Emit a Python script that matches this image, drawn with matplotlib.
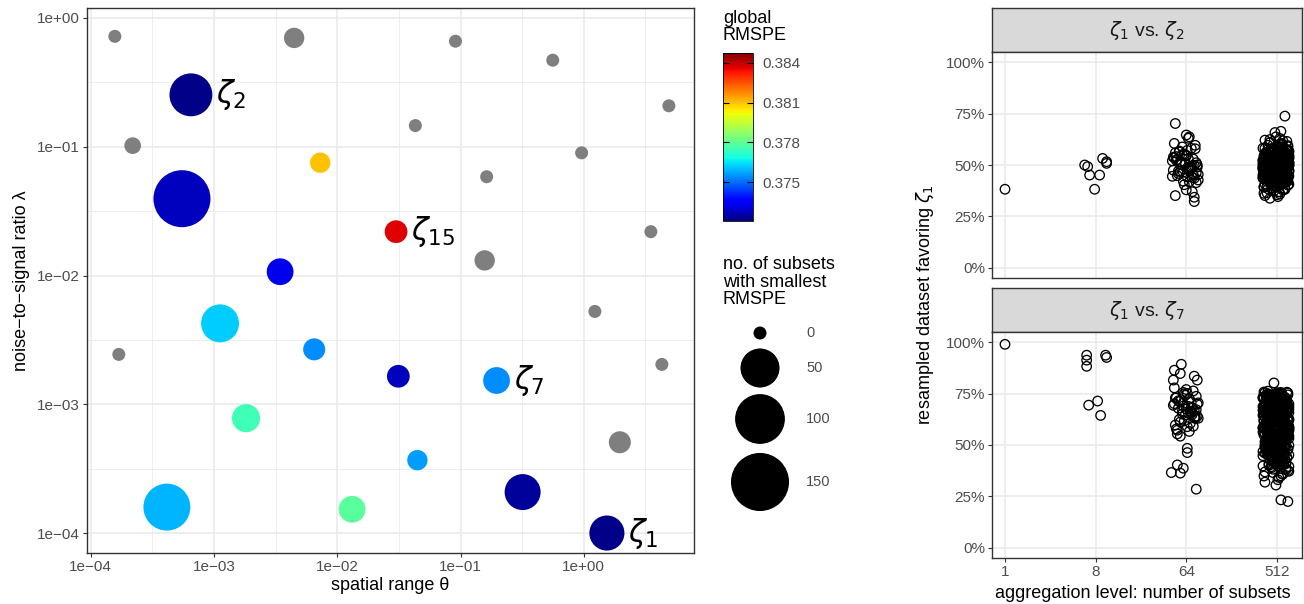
import numpy as np
import matplotlib as mpl
import matplotlib.pyplot as plt
from matplotlib.ticker import FixedLocator, FixedFormatter, NullFormatter

plt.rcParams['font.family'] = ['Liberation Sans', 'DejaVu Sans']
plt.rcParams['mathtext.fontset'] = 'dejavusans'

# ---------------- left panel: parameter grid ----------------
theta = [1.57e-4, 4.47e-3, 6.5e-4, 2.19e-4, 7.28e-3, 5.5e-4, 3.44e-3, 0.091, 0.56, 4.9,
         0.043, 0.96, 0.163, 0.030, 3.5, 0.157, 1.12e-3, 1.69e-4, 6.5e-3, 1.82e-3,
         4.15e-4, 0.0132, 1.23, 4.3, 0.0313, 0.196, 1.96, 0.0447, 0.319, 1.54]
lam = [0.72, 0.70, 0.253, 0.102, 0.0752, 0.0395, 0.0107, 0.66, 0.47, 0.208,
       0.146, 0.0897, 0.0585, 0.0219, 0.0219, 0.0131, 4.25e-3, 2.44e-3, 2.67e-3, 7.8e-4,
       1.59e-4, 1.53e-4, 5.26e-3, 2.04e-3, 1.65e-3, 1.53e-3, 5.07e-4, 3.68e-4, 2.08e-4, 1.0e-4]
nan = float('nan')
rmspe = [nan, nan, 0.3722, nan, 0.3810, 0.3728, 0.3733, nan, nan, nan,
         nan, nan, nan, 0.3837, nan, nan, 0.3762, nan, 0.3754, 0.3775,
         0.3759, 0.3779, nan, nan, 0.3728, 0.3754, nan, 0.3756, 0.3724, 0.3722]
n_best = [0, 4, 66, 1, 4, 143, 14, 0, 0, 0,
          0, 0, 0, 7, 0, 4, 46, 0, 6, 17,
          85, 14, 0, 0, 7, 14, 6, 4, 39, 36]
zeta_lab = [None, None, r'$\zeta_2$', None, None, None, None, None, None, None,
            None, None, None, r'$\zeta_{15}$', None, None, None, None, None, None,
            None, None, None, None, None, r'$\zeta_7$', None, None, None, r'$\zeta_1$']

rmspe_lim = (0.37207, 0.38475)
cbar_ticks = [0.375, 0.378, 0.381, 0.384]
size_keys = [0, 50, 100, 150]

# ---------------- right panels: resampling ----------------
levels = [1, 8, 64, 512]

# zeta1 vs zeta2
t1 = [38.2]
t8 = [50.0, 49.2, 45.1, 38.2, 45.1, 53.2, 50.8, 51.6]
t8_j = [-11, -8, -6, -1, 4, 7, 11, 11]
t64 = [70.2, 64.6, 63.7, 60.5, 63.0, 35.1, 37.0, 34.3, 32.2, 37.9, 41.4,
       50.3, 47.8, 52.6, 45.1, 55.4, 49.0, 53.8, 44.2, 51.7, 57.9, 46.5, 48.9, 54.1, 42.7, 50.8,
       56.3, 47.2, 52.0, 43.6, 58.8, 49.7, 45.9, 53.2, 51.1, 40.4, 55.9, 48.3, 46.8, 54.7, 50.0,
       44.8, 57.1, 52.9, 47.5, 49.3, 42.1, 59.6, 51.5, 45.4, 53.6, 48.0, 56.8, 43.9, 50.6, 46.2,
       55.0, 49.8, 52.3, 41.8, 47.0, 54.4, 58.1, 44.5]
t64_j = [-11, 0, 3, -12, 2, -11, 6, 8, 8, 0, 10,
         -5, 4, -9, 7, -2, 11, -13, 1, -6, 9, -3, 5, -10, 12, -1,
         -7, 3, -14, 8, -4, 6, -8, 2, 10, -2, -11, 5, -6, 0, 11,
         -9, 1, 7, -13, 4, -3, 9, -5, 12, -12, 2, -7, 6, -1, 10,
         -4, 8, -10, 3, -8, 0, 5, -14]
t512 = [73.8, 48.2, 52.7, 44.9, 55.3, 50.1, 41.6, 47.4, 58.2, 49.0, 45.7, 53.9, 38.4, 51.2, 46.8, 60.3, 49.7, 43.5, 54.6, 47.9,
        50.8, 36.2, 52.1, 45.3, 57.4, 48.6, 42.8, 51.9, 46.1, 55.8, 49.3, 40.7, 53.2, 47.0, 61.5, 44.2, 50.4, 48.9, 56.7, 43.1,
        49.6, 65.8, 46.5, 52.9, 39.5, 50.7, 54.3, 45.0, 48.1, 59.4, 47.6, 51.5, 42.3, 53.7, 44.6, 49.9, 57.0, 46.3, 35.1, 51.0,
        48.4, 54.9, 43.8, 50.2, 47.2, 62.4, 45.6, 52.4, 41.0, 49.1, 55.5, 46.9, 50.6, 37.8, 53.0, 48.7, 44.4, 58.7, 47.7, 51.7,
        45.9, 53.4, 49.4, 42.0, 56.2, 48.0, 51.3, 39.9, 50.0, 46.6, 54.0, 43.3, 60.9, 47.3, 52.2, 49.2, 44.8, 55.1, 41.9, 50.5,
        47.1, 57.8, 44.1, 51.6, 48.8, 36.9, 53.5, 46.0, 49.8, 63.7, 45.4, 52.6, 42.5, 50.3, 47.5, 55.9, 43.9, 51.1, 48.3, 40.2,
        54.4, 46.7, 50.9, 33.8, 52.0, 48.5, 44.0, 56.9, 47.8, 49.5, 41.3, 53.1, 45.8, 59.9, 50.7, 46.4, 52.8, 38.9, 48.6, 55.0,
        43.4, 51.4, 47.0, 58.1, 49.0, 45.2, 53.8, 42.6, 50.1, 46.2, 54.7, 48.0, 39.2, 52.3, 44.7, 61.0, 49.4, 47.6, 51.8, 35.9,
        50.2, 46.8, 55.6, 43.0, 48.9, 52.5, 45.5, 57.3, 49.7, 41.4, 53.6, 47.4, 50.8, 44.3, 66.4, 48.2, 51.9, 46.0, 54.2, 40.6,
        49.1, 56.4, 44.5, 52.7, 47.9, 37.4, 50.6, 45.1, 53.3, 48.4, 58.6, 42.9, 51.2, 46.5, 55.2, 49.9, 43.6, 52.0, 47.2, 60.1,
        45.7, 50.0, 54.8, 41.8, 48.7, 53.0, 46.3, 57.6, 44.9, 51.5, 39.6, 49.3, 55.7, 47.7, 52.4, 43.2, 50.4, 34.6, 48.1, 53.9,
        46.9, 51.3, 42.2, 56.1, 49.6, 44.1, 52.9, 47.3, 59.2, 50.9, 45.3, 54.5, 48.8, 38.1, 51.7, 46.1, 62.9, 49.0, 43.7, 53.4,
        48.5, 52.2, 45.0, 50.7, 47.1, 54.1, 43.0, 49.8, 51.0, 46.2, 56.5, 48.0, 53.1, 44.5, 50.3, 47.6, 58.0, 42.4, 51.6, 49.1,
        46.6, 53.7, 50.5, 40.9, 48.8, 55.2, 45.7, 52.0, 47.4, 59.6, 49.5, 44.0, 51.3, 46.9, 54.8, 37.0, 50.0, 48.2, 57.2, 43.8,
        51.8, 47.7, 42.9, 53.5, 49.3, 45.4, 56.0, 48.6, 50.9, 39.4, 52.6, 46.4, 54.4, 44.3, 49.7, 61.8, 47.0, 51.4, 45.2, 55.6,
        50.1, 43.6, 48.3, 57.9, 46.0, 52.8, 41.5, 49.0, 54.2, 47.9, 50.6, 44.7, 53.3, 48.9, 36.4, 51.1, 46.7, 55.9, 42.7, 49.4,
        47.3, 54.6, 50.8, 45.6, 52.3, 48.1, 58.9, 44.2, 51.7, 46.5, 49.9, 40.1, 53.0, 47.8, 56.3, 43.4, 50.2, 48.7, 62.1, 45.9,
        52.5, 46.3, 49.2, 55.4, 43.1, 51.2, 47.5, 53.9, 38.6, 50.4, 45.1, 57.5, 48.4, 52.1, 44.9, 49.6, 54.0, 46.8, 41.2, 51.9,
        48.0, 56.7, 44.6, 50.0, 47.2, 53.6, 42.0, 49.1, 51.5, 45.8, 60.4, 48.5, 52.7, 46.1, 55.0, 43.3, 50.5, 47.9, 53.2, 35.5]

# zeta1 vs zeta7
b1 = [99.0]
b8 = [93.7, 91.3, 88.3, 93.7, 92.6, 69.4, 71.4, 64.4]
b8_j = [-9, -9, -9, 10, 11, -7, 2, 5]
b64 = [89.3, 86.4, 84.8, 83.5, 81.6, 81.6, 77.8, 48.4, 46.3, 40.3, 36.6, 36.3, 38.7, 28.5,
       66.2, 71.5, 63.8, 74.9, 68.0, 59.7, 72.6, 65.1, 69.9, 62.4, 76.3, 67.5, 57.8, 70.8, 64.6,
       73.7, 61.2, 68.8, 55.4, 66.9, 75.6, 63.0, 70.1, 58.9, 72.0, 65.8, 67.9, 60.5, 74.2, 62.9,
       69.3, 56.6, 71.1, 64.0, 77.0, 66.4, 59.1, 73.0, 68.4, 61.7, 70.5, 54.3, 65.5, 72.9, 63.3,
       69.0, 67.2, 57.2, 75.1, 64.9]
b64_j = [-5, -12, -6, 8, 11, -13, -12, 1, 1, -9, -15, -6, -3, 10,
         4, -8, 9, -2, 6, -11, 3, -4, 11, -7, 7, 0, -10, 5, -1,
         10, -6, 2, -9, 8, -3, 12, -12, 1, -5, 6, -8, 4, -1, 9,
         -13, 3, -7, 11, 0, -4, 7, -10, 5, -2, 12, -6, 2, -11, 8,
         -3, 10, -9, 1, 6]
b512 = [61.4, 80.2, 23.3, 22.5, 55.8, 68.9, 47.2, 72.5, 58.3, 43.6, 65.1, 51.7, 74.8, 39.5, 62.7, 54.0, 70.3, 45.9, 59.6, 66.8,
        49.4, 73.1, 56.2, 41.8, 67.5, 53.3, 75.6, 46.7, 63.9, 57.4, 35.8, 69.7, 50.6, 60.8, 44.1, 71.9, 55.1, 64.5, 48.3, 76.2,
        58.9, 42.7, 66.2, 52.4, 73.8, 37.9, 61.1, 54.8, 69.0, 47.9, 62.3, 56.6, 30.5, 70.9, 51.2, 64.0, 45.0, 75.1, 59.2, 53.9,
        67.9, 40.6, 57.7, 72.2, 49.8, 63.3, 55.5, 44.8, 68.4, 60.1, 38.7, 74.0, 52.8, 65.7, 46.3, 58.6, 71.3, 50.3, 62.0, 34.2,
        56.9, 69.4, 48.6, 73.5, 43.2, 61.8, 54.3, 66.5, 51.0, 75.4, 59.9, 41.1, 64.8, 57.1, 36.6, 70.1, 47.5, 63.1, 53.6, 68.1,
        45.6, 60.4, 72.8, 55.2, 39.0, 65.4, 50.0, 74.5, 58.1, 48.9, 67.0, 53.0, 62.9, 44.4, 71.0, 56.4, 33.1, 69.2, 52.1, 61.6,
        75.8, 47.0, 64.2, 57.9, 42.2, 70.6, 54.6, 66.0, 49.1, 73.0, 59.4, 37.2, 63.6, 51.9, 68.7, 45.3, 60.0, 74.3, 55.7, 40.1,
        62.5, 52.6, 71.6, 46.0, 65.9, 58.0, 43.9, 69.6, 56.0, 35.0, 72.4, 50.9, 61.3, 47.7, 67.3, 54.2, 75.0, 41.5, 59.0, 64.7,
        53.5, 70.4, 48.1, 63.0, 38.2, 66.6, 57.2, 44.6, 73.3, 60.6, 51.4, 68.2, 55.4, 31.9, 62.2, 49.6, 71.7, 46.6, 65.0, 58.5,
        42.5, 67.7, 54.9, 74.6, 50.2, 61.0, 36.0, 69.9, 56.7, 47.3, 64.3, 52.3, 72.0, 43.0, 59.7, 66.3, 39.8, 57.5, 70.7, 48.7,
        63.8, 55.0, 45.1, 73.7, 60.2, 49.9, 68.5, 40.9, 58.7, 65.6, 53.1, 75.3, 46.9, 62.6, 34.9, 71.2, 56.1, 44.3, 67.1, 51.6,
        59.3, 72.7, 48.0, 64.9, 38.5, 61.9, 54.5, 69.3, 43.4, 57.0, 66.9, 50.5, 74.1, 45.8, 63.4, 52.7, 70.0, 41.2, 60.9, 55.6,
        62.8, 55.3, 70.2, 48.4, 66.1, 58.8, 73.4, 44.9, 61.5, 52.0, 68.6, 57.1, 75.5, 50.8, 64.4, 41.7, 59.5, 71.4, 54.7, 65.3,
        47.6, 69.8, 60.7, 53.4, 74.4, 43.8, 63.5, 56.3, 67.6, 49.7, 72.3, 58.2, 39.4, 65.8, 51.5, 61.2, 70.8, 46.2, 57.8, 73.9,
        54.1, 66.7, 45.5, 62.1, 71.1, 50.1, 59.8, 74.7, 48.8, 64.1, 55.9, 68.0, 37.6, 60.3, 72.9, 52.9, 66.4, 44.0, 57.3, 69.5,
        63.2, 49.2, 75.2, 56.5, 67.8, 42.4, 61.7, 53.7, 70.0, 58.4, 46.4, 73.2, 55.0, 64.6, 51.1, 68.3, 40.4, 62.4, 74.0, 57.6,
        50.4, 65.2, 59.1, 72.1, 47.4, 63.7, 54.4, 69.1, 43.1, 60.5, 75.7, 52.2, 66.0, 56.8, 71.8, 48.5, 62.6, 58.6, 36.9, 67.4,
        59.6, 73.6, 51.8, 64.5, 45.7, 70.3, 57.4, 61.9, 53.8, 68.8, 42.9, 74.9, 56.2, 63.0, 49.5, 66.9, 60.8, 71.5, 47.1, 55.5,
        65.7, 53.2, 72.6, 58.1, 44.7, 67.1, 61.4, 50.0, 69.7, 56.9, 74.2, 46.8, 63.9, 54.6, 70.9, 41.0, 60.0, 66.5, 52.5, 73.1]

# horizontal jitter of the 512 groups (shared by both facets)
j512 = [8, -3, 4, 11, -12, 6, -7, 1, -14, 10, -2, 5, -9, 12, -5, 3, -11, 7, 0, -8,
        9, -13, 2, -4, 11, -6, 4, -10, 8, -1, 6, -12, 3, -7, 10, -3, 1, -14, 5, -9,
        12, -2, 7, -11, 0, 9, -5, 3, -8, 11, -13, 6, -1, 4, -10, 8, -6, 2, -12, 10,
        -4, 5, -9, 1, 12, -7, 3, -14, 7, -2, 9, -11, 0, 6, -5, 11, -8, 4, -13, 2,
        10, -1, 8, -10, 3, -6, 12, -3, 5, -12, 1, 9, -7, 6, -4, 0, -11, 11, -2, 7,
        -9, 4, -14, 10, -5, 2, 8, -8, 12, -1, -12, 5, 3, -6, 9, -10, 1, 7, -3, 11,
        -13, 6, 0, -7, 4, 10, -4, 2, -11, 8, -2, 12, -9, 5, -14, 3, 9, -5, 1, -8,
        11, -1, 6, -12, 7, -6, 0, 10, -10, 4, -3, 8, -13, 2, 12, -7, 5, -2, -9, 3,
        9, -11, 1, 6, -4, 11, -8, 3, -14, 7, 0, -6, 10, -12, 4, -1, 8, -10, 2, 12,
        -5, 7, -13, 1, 9, -3, 5, -9, 11, -7, 3, 0, -11, 8, -2, 6, -14, 10, -6, 4,
        2, -8, 12, -4, 7, -12, 0, 9, -1, 5, -10, 11, -6, 3, -13, 8, -3, 1, 10, -9,
        6, -5, 11, -11, 4, -2, 9, -7, 1, 12, -14, 5, -4, 8, 0, -10, 3, 7, -8, 10,
        -6, 9, -1, 4, -12, 11, 2, -8, 7, -4, 12, -10, 0, 6, -13, 3, -3, 10, -7, 5,
        1, -11, 8, -5, 11, -2, 4, -14, 9, -9, 6, 0, -6, 12, -12, 2, 7, -4, 10, -8,
        -3, 5, -10, 12, 0, -7, 9, -1, 3, -13, 8, -5, 11, -11, 1, 6, -8, 4, -2, 10,
        7, -12, 2, -6, 10, -3, 5, -9, 12, -14, 0, 8, -4, 3, -10, 11, -1, 6, -7, 9,
        -2, 4, -13, 8, -8, 1, 11, -5, 6, -11, 10, -1, 3, -9, 7, -6, 12, 0, -12, 5,
        9, -4, 6, -10, 2, -7, 12, -2, 8, -13, 4, -9, 10, 1, -5, 7, -11, 3, -3, 11,
        -9, 12, -6, 1, 7, -12, 3, -1, 10, -5, 5, -14, 8, -3, 2, -8, 11, -10, 6, 0]

assert len(t64) == len(t64_j) == 64 and len(b64) == len(b64_j) == 64
assert len(t512) == len(b512) == len(j512)

# ---------------- layout helpers ----------------
W, H, DPI = 1304, 604, 100
JIT = 0.033  # log2 units per jitter step
TITLE = 13
TICK = 11


def box(x0, y0, x1, y1):
    return [x0 / W, 1 - y1 / H, (x1 - x0) / W, (y1 - y0) / H]


def diam(n):
    return 13 + 3.68 * np.sqrt(n)


def area(d_px):
    return (d_px * 72.0 / DPI) ** 2


fig = plt.figure(figsize=(W / DPI, H / DPI), dpi=DPI)

ov = fig.add_axes([0, 0, 1, 1], zorder=-1)
ov.set_xlim(0, W)
ov.set_ylim(H, 0)
ov.axis('off')

GRID = '#EBEBEB'
DARK = '#333333'
TXT = '#4D4D4D'


def style(ax):
    for s in ax.spines.values():
        s.set_color(DARK)
        s.set_linewidth(1.0)
    ax.tick_params(which='major', length=3, width=0.8, color=DARK, labelsize=TICK,
                   labelcolor=TXT, pad=2)
    ax.tick_params(which='minor', length=0)
    ax.set_axisbelow(True)


# ---------------- left scatter ----------------
ax = fig.add_axes(box(87, 8, 694, 553))
style(ax)
ax.set_xscale('log')
ax.set_yscale('log')
ax.set_xlim(10 ** -4.03, 10 ** 0.894)
ax.set_ylim(10 ** -4.155, 10 ** 0.0775)
dec = [1e-4, 1e-3, 1e-2, 1e-1, 1e0]
dec_lab = ['1e\u221204', '1e\u221203', '1e\u221202', '1e\u221201', '1e+00']
half = [10 ** (k + 0.5) for k in range(-5, 1)]
for a in (ax.xaxis, ax.yaxis):
    a.set_major_locator(FixedLocator(dec))
    a.set_major_formatter(FixedFormatter(dec_lab))
    a.set_minor_locator(FixedLocator(half))
    a.set_minor_formatter(NullFormatter())
ax.grid(which='major', color=GRID, lw=1.2)
ax.grid(which='minor', color=GRID, lw=0.6)

cmap = plt.get_cmap('jet')
norm = mpl.colors.Normalize(*rmspe_lim)
cols = ['#7F7F7F' if np.isnan(r) else cmap(norm(r)) for r in rmspe]
sizes = [area(diam(n)) for n in n_best]
ax.scatter(theta, lam, s=sizes, c=cols, linewidths=0, zorder=3)
for x, y, n, lab in zip(theta, lam, n_best, zeta_lab):
    if lab:
        ax.annotate(lab, (x, y), xytext=((diam(n) / 2 + 4) * 0.72, 0),
                    textcoords='offset points', ha='left', va='center',
                    fontsize=22, zorder=4)
ax.set_xlabel('spatial range \u03b8', fontsize=TITLE, labelpad=2)
ax.set_ylabel('noise\u2212to\u2212signal ratio \u03bb', fontsize=TITLE, labelpad=5)

# ---------------- colour legend ----------------
ov.text(723, 10, 'global\nRMSPE', fontsize=TITLE, va='top', ha='left', linespacing=1.0)
cax = fig.add_axes(box(723, 53, 753, 221))
cb = mpl.colorbar.ColorbarBase(cax, cmap=cmap, norm=norm, ticks=cbar_ticks)
cb.ax.set_yticklabels(['%.3f' % t for t in cbar_ticks])
cb.outline.set_linewidth(0.6)
cb.ax.tick_params(direction='in', left=True, right=True, length=4, width=0.8,
                  color='black', labelsize=TICK, labelcolor=TXT, pad=7)

# ---------------- size legend ----------------
ov.text(723, 256, 'no. of subsets\nwith smallest\nRMSPE', fontsize=TITLE, va='top',
        ha='left', linespacing=1.05)
key_y = [333, 368, 419, 482]
ov.scatter([760] * 4, key_y, s=[area(diam(n)) for n in size_keys], c='black',
           linewidths=0)
for yy, n in zip(key_y, size_keys):
    ov.text(806, yy, str(n), fontsize=10.5, va='center', ha='left', color=TXT)

# ---------------- facets ----------------
facets = [
    (r'$\zeta_1$ vs. $\zeta_2$', 52, 278,
     [(t1, [0]), (t8, t8_j), (t64, t64_j), (t512, j512)]),
    (r'$\zeta_1$ vs. $\zeta_7$', 332, 558,
     [(b1, [0]), (b8, b8_j), (b64, b64_j), (b512, j512)]),
]
for k, (title, y0, y1, groups) in enumerate(facets):
    sax = fig.add_axes(box(992, y0 - 44, 1302, y0))
    sax.set_facecolor('#D9D9D9')
    sax.set_xticks([])
    sax.set_yticks([])
    for s in sax.spines.values():
        s.set_color(DARK)
        s.set_linewidth(1.0)
    sax.text(0.5, 0.5, title, transform=sax.transAxes, ha='center', va='center',
             fontsize=TITLE + 1, color='#1A1A1A')

    pax = fig.add_axes(box(992, y0, 1302, y1))
    style(pax)
    pax.set_xlim(-0.43, 9.83)
    pax.set_ylim(-5, 105)
    pax.set_xticks(np.log2(levels))
    pax.set_yticks([0, 25, 50, 75, 100])
    pax.set_yticklabels(['0%', '25%', '50%', '75%', '100%'])
    if k == 0:
        pax.tick_params(axis='x', bottom=False, labelbottom=False)
    else:
        pax.set_xticklabels([str(v) for v in levels])
    pax.grid(which='major', color=GRID, lw=1.2)
    for lev, (ys, js) in zip(levels, groups):
        xs = np.log2(lev) + JIT * np.asarray(js, dtype=float)
        pax.scatter(xs, ys, s=area(9.5), facecolors='none', edgecolors='black',
                    linewidths=0.95, zorder=3)

ov.text(925, 305, r'resampled dataset favoring $\zeta_1$', rotation=90,
        fontsize=TITLE, ha='center', va='center')
ov.text(1143, 593, 'aggregation level: number of subsets', fontsize=TITLE,
        ha='center', va='center')

fig.savefig('out.png', dpi=DPI)
